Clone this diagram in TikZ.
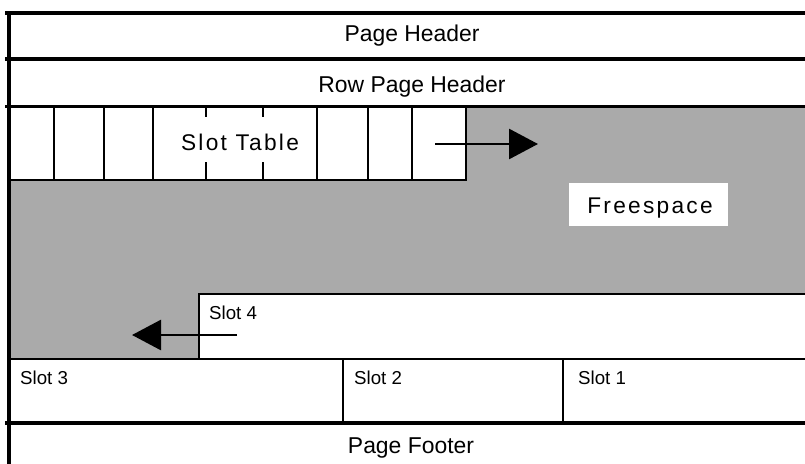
\documentclass[tikz,border=0pt]{standalone}
\usepackage{fontspec}
\setmainfont{Liberation Sans}
\newfontfamily\spacedfont[LetterSpace=10]{Liberation Sans}
\usetikzlibrary{arrows.meta}
\definecolor{freegray}{RGB}{170,170,170}
\begin{document}
\begin{tikzpicture}[x=1pt,y=-1pt,
  thickline/.style={line width=4pt},
  midline/.style={line width=2.6pt},
  thinline/.style={line width=1.2pt},
  bigtext/.style={font=\fontsize{22.9}{26}\selectfont, inner sep=0pt, anchor=base},
  spacedtext/.style={font=\spacedfont\fontsize{22.7}{26}\selectfont, inner sep=0pt, anchor=base},
  smalltext/.style={font=\fontsize{18.7}{22}\selectfont, inner sep=0pt, anchor=base west},
  whitebox/.style={fill=white, inner sep=0pt},
  move/.style={line width=2.8pt, -{Triangle[length=29pt,width=30pt]}}
]
\useasboundingbox (0,0) rectangle (805,463);
% free space
\fill[freegray] (10,106) rectangle (806,359);
% slot table
\filldraw[fill=white, thinline] (10,106) rectangle (466,180);
\foreach \x in {54,104,153,206,263,317,368,412}
  \draw[thinline] (\x,106) -- (\x,180);
\node[whitebox, minimum width=148pt, minimum height=45pt] (stbox) at (236,139.5) {};
\node[spacedtext] (slottable) at (240,150) {Slot Table};
% freespace label
\node[whitebox, minimum width=159pt, minimum height=43pt] (fsbox) at (648.5,204.5) {};
\node[spacedtext] (freespace) at (650,213) {Freespace};
% slot 4
\filldraw[fill=white, thinline] (199,294) rectangle (806,359);
% slot row
\filldraw[fill=white, thinline] (10,359) rectangle (806,423);
\draw[thinline] (343,359) -- (343,423);
\draw[thinline] (563,359) -- (563,423);
% thick separators
\draw[thickline] (5,13) -- (806,13);
\draw[thickline] (5,59) -- (806,59);
\draw[midline] (5,106.3) -- (806,106.3);
\draw[thickline] (5,422.7) -- (806,422.7);
\draw[thickline] (8.7,11) -- (8.7,464);
% labels
\node[bigtext] (pageheader) at (412,41) {Page Header};
\node[bigtext] (rowheader) at (412,92) {Row Page Header};
\node[bigtext] (pagefooter) at (411,453) {Page Footer};
\node[smalltext] (slot4) at (209,319) {Slot 4};
\node[smalltext] (slot3) at (20,384) {Slot 3};
\node[smalltext] (slot2) at (354,384) {Slot 2};
\node[smalltext] (slot1) at (578,384) {Slot 1};
% arrows
\coordinate (rstart) at (435,144);
\coordinate (rend) at (538,144);
\draw[move] (rstart) -- (rend);
\coordinate (lstart) at (237,335);
\coordinate (lend) at (132,335);
\draw[move] (lstart) -- (lend);
\end{tikzpicture}
\end{document}
